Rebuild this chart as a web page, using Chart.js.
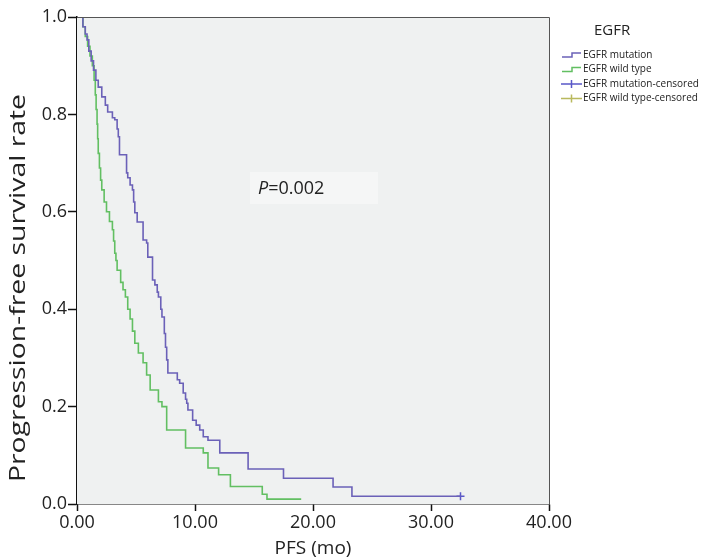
<!DOCTYPE html>
<html lang="en">
<head>
    <meta charset="UTF-8">
    <title>PFS by EGFR status</title>
    <style>
        body {
            margin: 0;
            background: #ffffff;
        }

        canvas {
            display: block;
        }
    </style>
    <script src="https://cdn.jsdelivr.net/npm/chart.js"></script>
</head>
<body>
    <canvas id="chart" width="703" height="560"></canvas>

    <script>
        // EGFR mutation curve (time in months, survival after each drop)
        const mutTime = [0, 0.5, 0.7, 0.85, 1.0, 1.2, 1.4, 1.6, 1.8, 2.1, 2.4, 2.6, 3.0, 3.2, 3.4, 3.5, 3.6, 4.2, 4.3, 4.5, 4.7,
            4.8, 4.9, 5.1, 5.6, 5.9, 6.0, 6.4, 6.6, 6.8, 6.9, 7.1, 7.2, 7.4, 7.5, 7.6, 7.7, 8.5, 8.7, 9.0, 9.2,
            9.3, 9.4, 9.8, 10.1, 10.4, 10.7, 11.1, 12.1, 14.5, 17.5, 21.7, 23.3, 32.5];
        const mutSurv = [1.0, 0.98, 0.965, 0.953, 0.93, 0.91, 0.891, 0.87, 0.856, 0.836, 0.819, 0.805, 0.793, 0.789, 0.77, 0.754, 0.717, 0.68, 0.67, 0.655, 0.645,
            0.62, 0.598, 0.579, 0.542, 0.536, 0.507, 0.46, 0.45, 0.435, 0.425, 0.4, 0.384, 0.35, 0.322, 0.296, 0.269, 0.255, 0.248, 0.228, 0.215,
            0.207, 0.193, 0.172, 0.162, 0.152, 0.138, 0.131, 0.105, 0.072, 0.053, 0.035, 0.016, 0.016];

        // EGFR wild type curve
        const wildTime = [0, 0.5, 0.7, 0.9, 1.1, 1.3, 1.45, 1.55, 1.62, 1.7, 1.75, 1.8, 1.9, 2.0, 2.1, 2.3, 2.5, 2.75, 3.0, 3.1,
            3.2, 3.3, 3.4, 3.7, 3.9, 4.1, 4.3, 4.5, 4.7, 4.9, 5.2, 5.6, 5.9, 6.2, 6.9, 7.2, 7.6, 9.2, 10.7, 11.1,
            12.0, 13.0, 15.7, 16.1, 19.0];
        const wildSurv = [1.0, 0.98, 0.96, 0.94, 0.92, 0.9, 0.87, 0.84, 0.81, 0.78, 0.75, 0.72, 0.69, 0.665, 0.645, 0.62, 0.6, 0.58, 0.563, 0.54,
            0.515, 0.5, 0.48, 0.455, 0.44, 0.425, 0.4, 0.38, 0.355, 0.33, 0.31, 0.29, 0.265, 0.234, 0.21, 0.2, 0.152, 0.115, 0.105, 0.074,
            0.06, 0.036, 0.02, 0.01, 0.01];

        // censored marks
        const mutCensorTime = [32.5];
        const mutCensorSurv = [0.016];

        const xTicks = [0, 10, 20, 30, 40];
        const yTicks = [0, 0.2, 0.4, 0.6, 0.8, 1.0];

        const yTitle = 'Progression-free survival rate';
        const legendTitle = 'EGFR';
        const legendLabels = ['EGFR mutation', 'EGFR wild type', 'EGFR mutation-censored', 'EGFR wild type-censored'];
        const pValueText = '=0.002';

        const mutColor = '#6b61b8';
        const wildColor = '#62bf62';
        const mutCensorColor = '#5a58c8';
        const wildCensorColor = '#b9b95e';
        const fontName = '"Open Sans", sans-serif';

        function toPoints(xs, ys) {
            return xs.map((x, i) => ({ x: x, y: ys[i] }));
        }

        // plot background, outer box, axis title, p value and legend
        const decorPlugin = {
            id: 'decor',
            beforeDatasetsDraw(chart) {
                const ctx = chart.ctx;
                const a = chart.chartArea;
                ctx.save();
                ctx.fillStyle = '#eff1f1';
                ctx.fillRect(a.left, a.top, a.right - a.left, a.bottom - a.top);
                ctx.fillStyle = '#f5f6f6';
                ctx.fillRect(250, 172, 128, 32);
                ctx.restore();
            },
            afterDraw(chart) {
                const ctx = chart.ctx;
                const a = chart.chartArea;
                ctx.save();
                ctx.strokeStyle = '#555';
                ctx.lineWidth = 1;
                ctx.beginPath();
                ctx.moveTo(a.left, a.top + 0.5);
                ctx.lineTo(a.right + 0.5, a.top + 0.5);
                ctx.lineTo(a.right + 0.5, a.bottom);
                ctx.stroke();

                // y axis title, stretched a little along its length like the source
                ctx.save();
                ctx.font = '21px ' + fontName;
                ctx.fillStyle = '#222';
                ctx.textAlign = 'center';
                ctx.textBaseline = 'middle';
                const tw = ctx.measureText(yTitle).width;
                ctx.translate(19, 288);
                ctx.rotate(-Math.PI / 2);
                ctx.scale(388 / tw, 1);
                ctx.fillText(yTitle, 0, 0);
                ctx.restore();

                // p value
                ctx.fillStyle = '#222';
                ctx.textBaseline = 'middle';
                ctx.font = 'italic 18px ' + fontName;
                ctx.fillText('P', 258, 189);
                const pw = ctx.measureText('P').width;
                ctx.font = '18px ' + fontName;
                ctx.fillText(pValueText, 258 + pw, 189);

                // legend
                ctx.font = '15px ' + fontName;
                ctx.fillText(legendTitle, 594, 31);
                ctx.font = '10px ' + fontName;
                const rows = [55, 69.5, 84, 98.5];
                const colors = [mutColor, wildColor, mutCensorColor, wildCensorColor];
                rows.forEach((y, i) => {
                    ctx.strokeStyle = colors[i];
                    ctx.lineWidth = 1.5;
                    ctx.beginPath();
                    if (i < 2) {
                        ctx.moveTo(562, y + 2);
                        ctx.lineTo(572, y + 2);
                        ctx.lineTo(572, y - 2);
                        ctx.lineTo(581, y - 2);
                    } else {
                        ctx.moveTo(561, y);
                        ctx.lineTo(582, y);
                        ctx.moveTo(571.5, y - 4);
                        ctx.lineTo(571.5, y + 4);
                    }
                    ctx.stroke();
                    ctx.fillStyle = '#222';
                    ctx.fillText(legendLabels[i], 583, y);
                });
                ctx.restore();
            }
        };

        const ctx = document.getElementById('chart').getContext('2d');

        new Chart(ctx, {
            type: 'line',
            data: {
                datasets: [{
                    label: legendLabels[0],
                    data: toPoints(mutTime, mutSurv),
                    borderColor: mutColor,
                    borderWidth: 1.6,
                    stepped: true,
                    pointRadius: 0,
                    fill: false
                }, {
                    label: legendLabels[1],
                    data: toPoints(wildTime, wildSurv),
                    borderColor: wildColor,
                    borderWidth: 1.6,
                    stepped: true,
                    pointRadius: 0,
                    fill: false
                }, {
                    label: legendLabels[2],
                    data: toPoints(mutCensorTime, mutCensorSurv),
                    borderColor: mutCensorColor,
                    showLine: false,
                    pointStyle: 'cross',
                    pointRadius: 4,
                    pointBorderWidth: 1.5
                }]
            },
            options: {
                responsive: false,
                animation: false,
                layout: {
                    padding: { top: 17, right: 154, left: 0, bottom: 0 }
                },
                plugins: {
                    legend: { display: false },
                    tooltip: { enabled: false }
                },
                scales: {
                    x: {
                        type: 'linear',
                        min: 0,
                        max: 40,
                        afterFit(scale) { scale.height = 56; },
                        afterBuildTicks(scale) { scale.ticks = xTicks.map(v => ({ value: v })); },
                        border: { color: '#111', width: 1.5 },
                        grid: { drawOnChartArea: false, tickLength: 7, tickColor: '#111', tickWidth: 1.5 },
                        ticks: {
                            padding: 1,
                            color: '#222',
                            font: { family: fontName, size: 18 },
                            callback: v => v.toFixed(2)
                        },
                        title: {
                            display: true,
                            text: 'PFS (mo)',
                            color: '#222',
                            font: { family: fontName, size: 19 },
                            padding: { top: 0, bottom: 0 }
                        }
                    },
                    y: {
                        min: 0,
                        max: 1,
                        afterFit(scale) { scale.width = 77; },
                        afterBuildTicks(scale) { scale.ticks = yTicks.map(v => ({ value: v })); },
                        border: { color: '#111', width: 1.5 },
                        grid: { drawOnChartArea: false, tickLength: 9, tickColor: '#111', tickWidth: 1.5 },
                        ticks: {
                            padding: 1,
                            color: '#222',
                            font: { family: fontName, size: 18 },
                            callback: v => v.toFixed(1)
                        },
                        title: { display: false }
                    }
                }
            },
            plugins: [decorPlugin]
        });
    </script>
</body>
</html>
